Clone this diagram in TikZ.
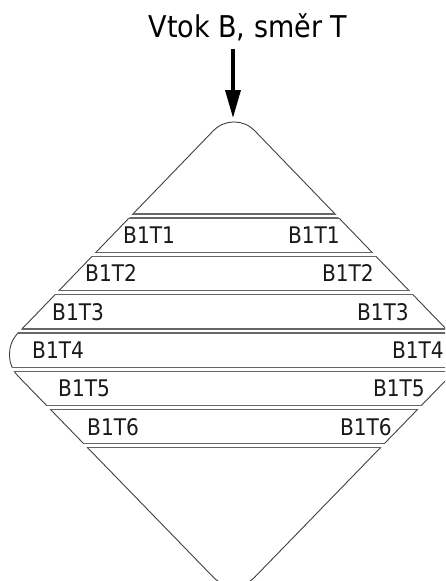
\documentclass[tikz,border=0pt]{standalone}
\usepackage{fontspec}
\setmainfont[FakeStretch=0.9]{DejaVu Sans}
\newfontfamily\labelfont[FakeStretch=0.88]{DejaVu Sans}
\usetikzlibrary{arrows.meta}
\tikzset{
  dpath/.style={insert path={(234,109.3) -- (470.8,354.6) -- (234,598.5) -- (-2.8,354.6) -- cycle}},
  edge/.style={draw=black!75, line width=0.9pt, rounded corners=30pt},
  hline/.style={draw=black!60, line width=1.2pt},
  lbl/.style={font=\labelfont\fontsize{22.9}{26}\selectfont, inner sep=0pt, text=black!90},
  ttl/.style={font=\fontsize{30}{34}\selectfont, inner sep=0pt},
  flow/.style={line width=3.5pt, -{Triangle[length=28pt,width=15pt]}}
}
\begin{document}
\begin{tikzpicture}[x=1pt,y=-1pt]
\useasboundingbox (0,0) rectangle (445,581);
\clip (0,0) rectangle (445,581);
% slanted edges of each slice
\foreach \a/\b in {-50/214, 218/252.3, 256.3/290.6, 294.6/328.9, 332.9/367.2, 371.2/405.5, 409.5/443.8, 447.8/650} {
  \begin{scope}
    \clip (-50,\a) rectangle (550,\b);
    \path[edge, dpath];
  \end{scope}
}
% horizontal double lines
\begin{scope}
  \clip[rounded corners=30pt, dpath];
  \foreach \y in {214, 218, 252.3, 256.3, 290.6, 294.6, 328.9, 332.9, 367.2, 371.2, 405.5, 409.5, 443.8, 447.8}
    \draw[hline] (-50,\y) -- (550,\y);
\end{scope}
% title and arrow
\node[ttl, anchor=base] (title) at (248,37) {Vtok B, směr T};
\coordinate (apex) at (233,118);
\draw[flow] ([yshift=-8pt]title.south -| apex) -- (apex);
% labels
\node[lbl, anchor=base west] (l1) at (123,243.5) {B1T1};
\node[lbl, anchor=base east] (r1) at (340,243.5) {B1T1};
\node[lbl, anchor=base west] (l2) at (85,281.8) {B1T2};
\node[lbl, anchor=base east] (r2) at (374,281.8) {B1T2};
\node[lbl, anchor=base west] (l3) at (52,320.1) {B1T3};
\node[lbl, anchor=base east] (r3) at (409,320.1) {B1T3};
\node[lbl, anchor=base west] (l4) at (32,358.4) {B1T4};
\node[lbl, anchor=base east] (r4) at (444,358.4) {B1T4};
\node[lbl, anchor=base west] (l5) at (58,396.7) {B1T5};
\node[lbl, anchor=base east] (r5) at (425,396.7) {B1T5};
\node[lbl, anchor=base west] (l6) at (87,435.0) {B1T6};
\node[lbl, anchor=base east] (r6) at (392,435.0) {B1T6};
\end{tikzpicture}
\end{document}
